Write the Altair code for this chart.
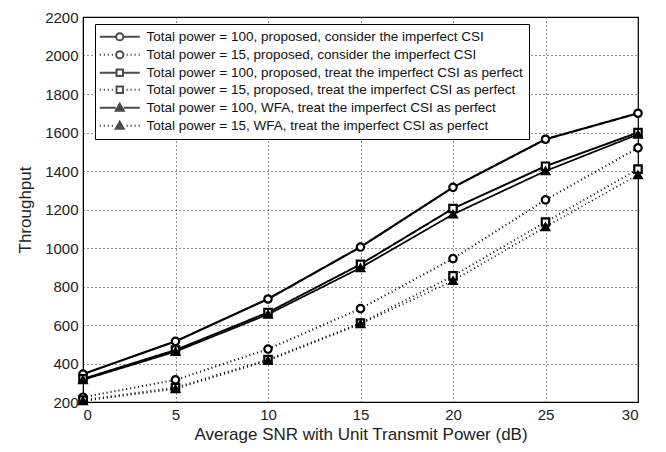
import altair as alt
import pandas as pd

snr = [0, 5, 10, 15, 20, 25, 30]

series_names = [
    "Total power = 100, proposed, consider the imperfect CSI",
    "Total power = 15, proposed, consider the imperfect CSI",
    "Total power = 100, proposed, treat the imperfect CSI as perfect",
    "Total power = 15, proposed, treat the imperfect CSI as perfect",
    "Total power = 100, WFA, treat the imperfect CSI as perfect",
    "Total power = 15, WFA, treat the imperfect CSI as perfect",
]

p100_prop_imperfect = [345, 515, 735, 1005, 1315, 1565, 1700]
p15_prop_imperfect = [225, 315, 475, 685, 945, 1250, 1520]
p100_prop_perfect = [320, 470, 665, 915, 1205, 1425, 1600]
p15_prop_perfect = [210, 275, 420, 610, 855, 1135, 1410]
p100_wfa_perfect = [315, 462, 655, 897, 1175, 1400, 1590]
p15_wfa_perfect = [205, 268, 415, 605, 830, 1110, 1380]

all_values = [p100_prop_imperfect, p15_prop_imperfect, p100_prop_perfect,
              p15_prop_perfect, p100_wfa_perfect, p15_wfa_perfect]

x_ticks = [0, 5, 10, 15, 20, 25, 30]
y_ticks = [200, 400, 600, 800, 1000, 1200, 1400, 1600, 1800, 2000, 2200]

rows = []
for name, vals in zip(series_names, all_values):
    for x, y in zip(snr, vals):
        rows.append({"snr": x, "throughput": y, "series": name})
df = pd.DataFrame(rows)

FONT = "Liberation Sans"

dash_range = [[1, 0], [1, 3], [1, 0], [1, 3], [1, 0], [1, 3]]
width_range = [2.2, 1.6, 2.2, 1.6, 2.2, 1.6]
shape_range = ["circle", "circle", "square", "square", "triangle-up", "triangle-up"]
fill_range = ["white", "white", "white", "white", "black", "black"]

# legend symbol paths (line + marker)
def solid_line():
    return "M-5,0L-1,0M1,0L5,0"

def dotted_line():
    segs = []
    for s in [-5, -4, -3, -2]:
        segs.append(f"M{s},0L{s + 0.3},0")
    for s in [1.7, 2.7, 3.7, 4.7]:
        segs.append(f"M{s},0L{s + 0.3},0")
    return "".join(segs)

circle = "M0.9,0A0.9,0.9 0 1,1 -0.9,0A0.9,0.9 0 1,1 0.9,0Z"
square = "M-0.8,-0.8L0.8,-0.8L0.8,0.8L-0.8,0.8Z"
triangle = ("M0,-1L1,0.75L-1,0.75Z"
            "M0,-0.45L0.5,0.4L-0.5,0.4Z"
            "M0,0L0.15,0.2L-0.15,0.2Z")

legend_paths = [
    solid_line() + circle,
    dotted_line() + circle,
    solid_line() + square,
    dotted_line() + square,
    solid_line() + triangle,
    dotted_line() + triangle,
]

x_axis = alt.Axis(values=x_ticks, format="d", labelOverlap=False,
                  title="Average SNR with Unit Transmit Power (dB)")
y_axis = alt.Axis(values=y_ticks, format="d", labelOverlap=False, title="Throughput")

x_enc = alt.X("snr:Q", scale=alt.Scale(domain=[0, 30], nice=False), axis=x_axis)
y_enc = alt.Y("throughput:Q", scale=alt.Scale(domain=[200, 2200], nice=False), axis=y_axis)

base = alt.Chart(df)

lines = base.mark_line(color="black").encode(
    x=x_enc, y=y_enc,
    detail="series:N",
    strokeDash=alt.StrokeDash("series:N", scale=alt.Scale(domain=series_names, range=dash_range), legend=None),
    strokeWidth=alt.StrokeWidth("series:N", scale=alt.Scale(domain=series_names, range=width_range), legend=None),
)

points = base.mark_point(color="black", filled=False, strokeWidth=2.2, size=55, opacity=1).encode(
    x=x_enc, y=y_enc,
    shape=alt.Shape("series:N", scale=alt.Scale(domain=series_names, range=shape_range), legend=None),
    fill=alt.Fill("series:N", scale=alt.Scale(domain=series_names, range=fill_range), legend=None),
)

legend_layer = base.transform_filter("false").mark_point(color="black", filled=False, strokeWidth=2).encode(
    x=x_enc, y=y_enc,
    shape=alt.Shape("series:N", scale=alt.Scale(domain=series_names, range=legend_paths),
                    legend=alt.Legend(title=None, orient="none", legendX=12, legendY=7,
                                      symbolSize=64, symbolStrokeWidth=2,
                                      symbolStrokeColor="black",
                                      symbolOffset=12, labelOffset=20,
                                      labelFontSize=13.5, labelFont=FONT, labelColor="#111",
                                      labelLimit=500, rowPadding=2,
                                      padding=6, strokeColor="black", fillColor="white",
                                      cornerRadius=0)),
)

chart = alt.layer(lines, points, legend_layer).resolve_scale(
    shape="independent", fill="independent"
).properties(
    width=555, height=385,
    padding={"left": 75, "top": 9, "right": 20, "bottom": 42},
    autosize=alt.AutoSizeParams(type="none"),
).configure_view(
    stroke="black", strokeWidth=1.2
).configure_axis(
    labelFont=FONT, titleFont=FONT, labelFontSize=15, titleFontSize=17,
    titleFontWeight="normal", labelColor="#222", titleColor="#222",
    grid=True, gridColor="black", gridDash=[1, 3], gridOpacity=0.9, gridWidth=1,
    domainColor="black", ticks=False, labelPadding=5, labelOverlap=False,
).configure_axisX(
    titlePadding=4
).configure_axisY(
    titlePadding=10
)

chart.save("out.html", embed_options={"renderer": "svg", "actions": False})
